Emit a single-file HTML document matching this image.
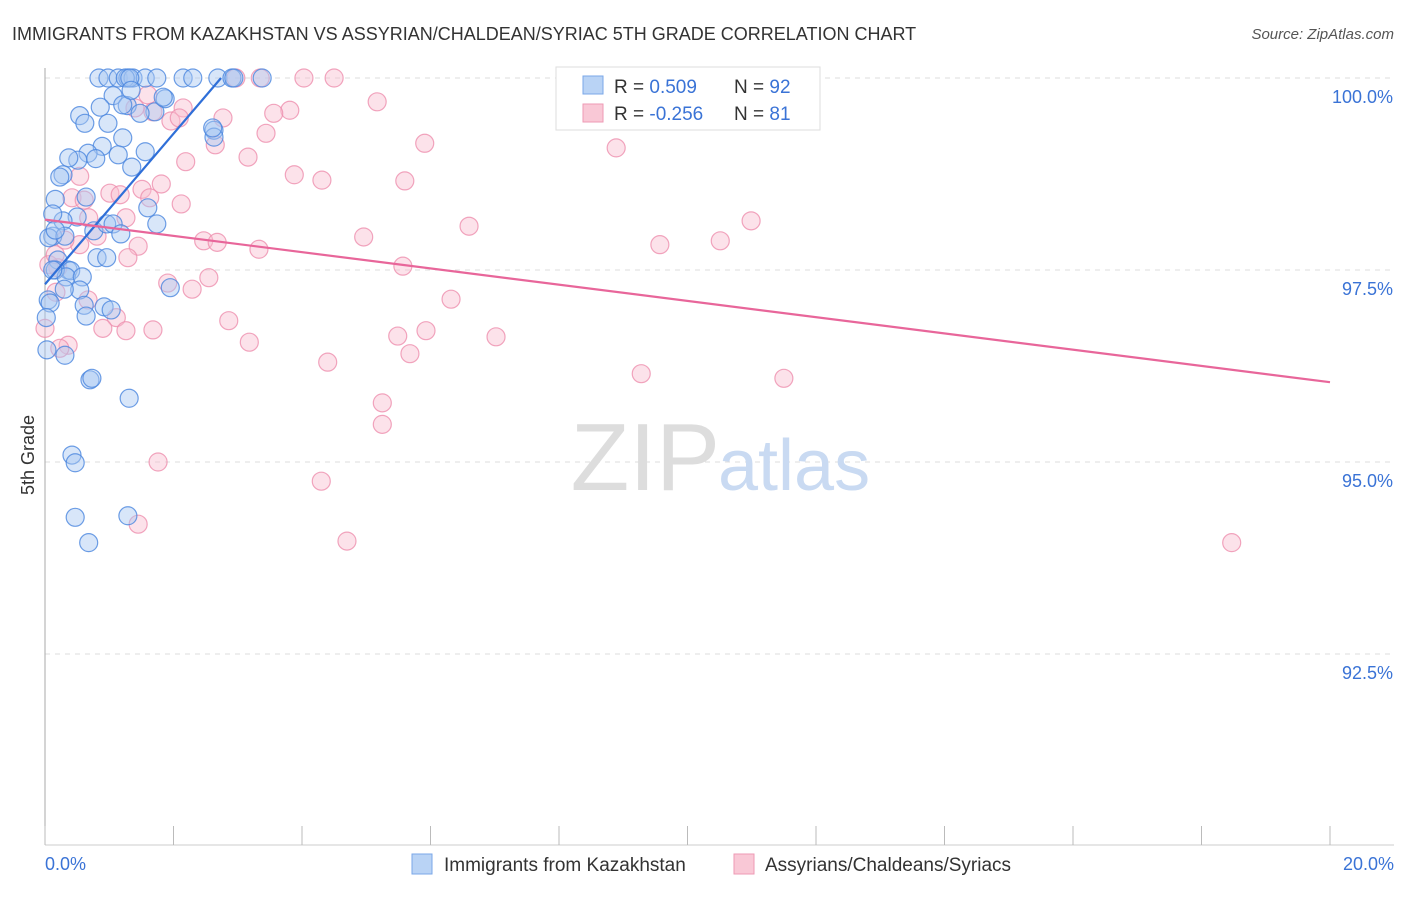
<!DOCTYPE html>
<html><head><meta charset="utf-8"><style>
body{margin:0;background:#fff;font-family:"Liberation Sans",sans-serif;}
svg text{font-family:"Liberation Sans",sans-serif;}
</style></head><body>
<svg id="c" width="1406" height="892">
<text x="12" y="40" font-size="18" fill="#333">IMMIGRANTS FROM KAZAKHSTAN VS ASSYRIAN/CHALDEAN/SYRIAC 5TH GRADE CORRELATION CHART</text>
<text x="1394" y="39" font-size="15" fill="#555" font-style="italic" text-anchor="end">Source: ZipAtlas.com</text>
<g id="grid"></g>
<text x="720" y="490" font-size="96" fill="#ddd" text-anchor="end" font-family="Liberation Serif">ZIP</text>
<text x="718" y="490" font-size="72" fill="#c9daf2">atlas</text>
<g id="pts"></g>
<g id="lines"></g>
<text transform="translate(34,455) rotate(-90)" font-size="18" fill="#333" text-anchor="middle">5th Grade</text>
<g>
<rect x="556" y="67" width="264" height="63" fill="#fff" stroke="#ddd"/>
<rect x="583" y="76" width="20" height="18" fill="#b9d3f5" stroke="#7aa7e8"/>
<rect x="583" y="104" width="20" height="18" fill="#f9c8d6" stroke="#ee9ab4"/>
<text x="614" y="93" font-size="19" fill="#333">R = <tspan fill="#3a73d6">0.509</tspan><tspan x="734">N = </tspan><tspan fill="#3a73d6">92</tspan></text>
<text x="614" y="120" font-size="19" fill="#333">R = <tspan fill="#3a73d6">-0.256</tspan><tspan x="734">N = </tspan><tspan fill="#3a73d6">81</tspan></text>
</g>
<g>
<rect x="412" y="854" width="20" height="20" fill="#b9d3f5" stroke="#7aa7e8"/>
<text x="444" y="871" font-size="19" fill="#333">Immigrants from Kazakhstan</text>
<rect x="734" y="854" width="20" height="20" fill="#f9c8d6" stroke="#ee9ab4"/>
<text x="765" y="871" font-size="19" fill="#333">Assyrians/Chaldeans/Syriacs</text>
</g>
</svg>
<script>
const blueX=[0.84,0.98,1.14,1.29,1.37,1.56,1.74,2.15,2.30,2.69,2.91,2.94,3.38,1.25,1.32,1.06,1.28,1.21,1.71,1.87,1.84,1.48,0.54,0.62,0.86,0.98,1.34,1.21,0.89,0.67,0.79,0.51,0.37,0.28,0.23,1.14,1.56,1.35,2.63,2.63,2.61,0.16,0.64,1.60,1.74,0.50,0.28,0.76,0.96,1.06,1.18,0.12,0.12,0.06,0.31,0.20,0.36,0.40,0.16,0.33,0.58,0.81,0.96,0.54,0.30,0.61,0.92,1.03,0.64,0.05,0.08,0.03,0.31,0.70,0.73,1.31,0.42,0.47,0.47,0.68,1.29,1.95,0.02,0.12,0.16];
const blueY=[100,100,100,100,100,100,100,100,100,100,100,100,100,100,100,99.77,99.64,99.65,99.56,99.73,99.75,99.54,99.51,99.41,99.62,99.41,99.84,99.22,99.11,99.02,98.95,98.93,98.96,98.74,98.71,99.00,99.04,98.84,99.32,99.23,99.35,98.42,98.45,98.31,98.10,98.19,98.14,98.01,98.10,98.10,97.97,98.23,97.94,97.92,97.94,97.63,97.50,97.49,97.50,97.41,97.41,97.66,97.66,97.24,97.25,97.04,97.02,96.98,96.90,97.11,97.07,96.46,96.39,96.07,96.09,95.83,95.09,94.99,94.28,93.95,94.30,97.27,96.88,97.50,98.02];
const pinkX=[2.97,3.35,4.03,4.50,5.17,3.81,3.56,2.77,2.15,1.96,2.09,1.60,1.40,1.68,3.44,2.65,5.91,8.89,3.16,2.19,3.88,4.31,5.60,1.81,1.01,1.17,1.51,1.63,2.12,0.54,0.42,0.61,0.68,1.26,6.60,10.99,4.96,9.57,10.51,0.81,1.45,2.47,2.68,3.33,1.29,1.91,2.29,2.55,5.57,6.32,0.67,0.20,0.06,0.16,0.17,1.11,0.90,1.26,1.68,2.86,3.18,5.49,5.93,7.02,5.68,4.40,9.28,11.50,0.36,0.0,5.25,5.25,1.76,4.30,1.45,4.70,18.47,0.23,0.54,0.31];
const pinkY=[100,100,100,100,99.69,99.58,99.54,99.48,99.61,99.44,99.48,99.78,99.61,99.56,99.28,99.13,99.15,99.09,98.97,98.91,98.74,98.67,98.66,98.62,98.50,98.48,98.55,98.44,98.36,98.72,98.44,98.41,98.18,98.18,98.07,98.14,97.93,97.83,97.88,97.94,97.81,97.88,97.86,97.77,97.66,97.33,97.25,97.40,97.55,97.12,97.11,97.53,97.57,97.70,97.21,96.88,96.74,96.71,96.72,96.84,96.56,96.64,96.71,96.63,96.41,96.30,96.15,96.09,96.52,96.74,95.77,95.49,95.00,94.75,94.19,93.97,93.95,96.48,97.83,97.89];
const yTicks=[100,97.5,95,92.5];
const yTickLabels=["100.0%","97.5%","95.0%","92.5%"];
const xTicks=[0,2,4,6,8,10,12,14,16,18,20];
const NS="http://www.w3.org/2000/svg";
const X=v=>45+v*(1285/20);
const Y=v=>78+(100-v)*(192/2.5);
function mk(tag,attrs,parent){const e=document.createElementNS(NS,tag);for(const k in attrs)e.setAttribute(k,attrs[k]);parent.appendChild(e);return e;}
const grid=document.getElementById('grid');
yTicks.forEach((t,i)=>{
  const l=mk('line',{x1:45,x2:1394,y1:Y(t),y2:Y(t),stroke:'#ddd','stroke-dasharray':'5,5'},grid);
  
  
  const tx=mk('text',{x:1393,y:Y(t)+25,'font-size':18,fill:'#3a73d6','text-anchor':'end'},grid);
  tx.textContent=yTickLabels[i];
  
  
});
const ax=mk('line',{x1:45,x2:45,y1:68,y2:845,stroke:'#aaa'},grid);


const bx=mk('line',{x1:45,x2:1394,y1:845,y2:845,stroke:'#ccc'},grid);


xTicks.forEach(t=>{
  const l=mk('line',{x1:X(t),x2:X(t),y1:826,y2:845,stroke:'#bbb'},grid);
  
  
});
[[0,"0.0%","start",45],[20,"20.0%","end",1394]].forEach(a=>{
  const t=mk('text',{x:a[3],y:870,'font-size':18,fill:'#3a73d6','text-anchor':a[2]},grid);
  t.textContent=a[1];
  
  
});
const pts=document.getElementById('pts');
function drawPts(xs,ys,fill,stroke,name){
  xs.forEach((x,i)=>{
    const c=mk('circle',{cx:X(x),cy:Y(ys[i]),r:9,fill:fill,'fill-opacity':0.45,stroke:stroke,'stroke-width':1.2,'stroke-opacity':0.8},pts);
    
    
  });
}
drawPts(pinkX,pinkY,'#f8bfd0','#ee8fae','pink-point');
drawPts(blueX,blueY,'#a9c8f2','#4a86de','blue-point');
function fit(xs,ys){const n=xs.length;let mx=0,my=0;xs.forEach((x,i)=>{mx+=x;my+=ys[i];});mx/=n;my/=n;let sxy=0,sxx=0;xs.forEach((x,i)=>{sxy+=(x-mx)*(ys[i]-my);sxx+=(x-mx)**2;});const b=sxy/sxx;return [my-b*mx,b];}
const lines=document.getElementById('lines');
const [ba,bb]=fit(blueX,blueY);
let bx2=Math.min(Math.max(...blueX),(100-ba)/bb);
const bl=mk('line',{x1:X(0),y1:Y(ba),x2:X(bx2),y2:Y(ba+bb*bx2),stroke:'#2f6fd8','stroke-width':2.2},lines);


const [pa,pb]=fit(pinkX,pinkY);
const pl=mk('line',{x1:X(0),y1:Y(pa),x2:X(20),y2:Y(pa+pb*20),stroke:'#e8669a','stroke-width':2.2},lines);


</script>
</body></html>
